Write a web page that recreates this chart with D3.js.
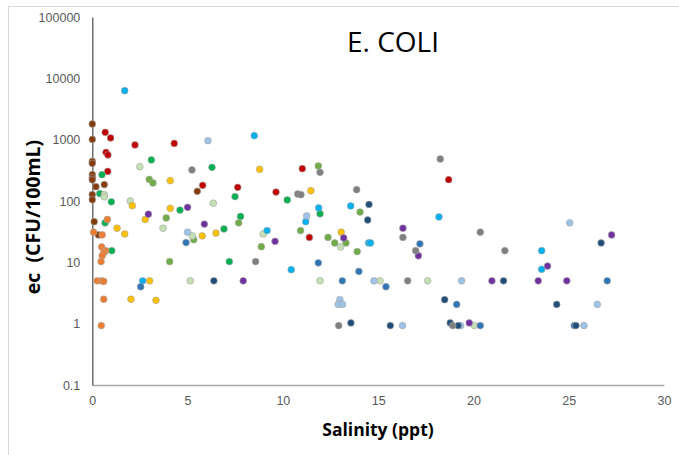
<!DOCTYPE html>
<html>
<head>
<meta charset="utf-8">
<script src="https://cdn.jsdelivr.net/npm/d3@7"></script>
<style>
  body { margin: 0; background: #fff; }
  svg { display: block; font-family: "Open Sans", "Noto Sans", sans-serif; }
</style>
</head>
<body>
<svg id="chart" width="679" height="455"></svg>
<script>
// sampling sites, each one a [salinity (ppt), ec (CFU/100mL)] list
const brown = [[0,1800],[0,1010],[0,443],[0,411],[0,270],[0,240],[0,222],[0.19,171],[0.63,185],[0,127],[0,105],[0.1,46],[0.32,28],[5.51,144]];
const red = [[0.68,1315],[0.96,1066],[2.24,820],[4.3,870],[0.72,621],[0.82,563],[0.81,304],[5.79,180],[7.63,167],[11.02,337],[9.64,140],[18.7,223],[11.39,25.5]];
const green = [[3.1,467],[6.28,354],[0.51,269],[0.39,132],[1.0,97],[7.49,118],[4.6,71],[7.78,56],[0.67,44],[6.91,35],[1.02,15.5],[7.19,10.3],[10.23,104],[11.95,62]];
const lightGreen = [[2.99,225],[3.18,197],[3.88,53],[7.68,44],[5.32,23.4],[4.06,10.3],[8.87,18],[12.37,25.5],[12.72,20.7],[13.31,20.7],[11.86,372],[10.93,33],[13.9,15],[14.05,66]];
const paleGreen = [[2.49,363],[0.63,127],[0.63,117],[1.99,100],[6.35,92],[3.71,36],[5.25,27],[8.97,29],[5.14,5],[11.95,5],[13.03,17.8],[15.1,5],[17.6,5],[20.04,0.93]];
const orange = [[0.79,50],[0.07,31],[0.52,28],[0.49,17.8],[0.7,15.5],[0.61,14.5],[0.52,12.8],[0.46,10.3],[0.26,5],[0.49,5],[0.6,4.9],[0.6,2.5],[0.47,0.93]];
const gold = [[8.78,328],[2.1,84],[4.09,215],[4.09,76],[2.78,50],[1.3,36],[1.7,29],[6.49,30],[5.77,27],[11.47,147],[13.06,31],[3.01,5],[2.03,2.5],[3.34,2.4]];
const skyBlue = [[1.7,6300],[8.5,1162],[9.17,33],[2.64,5],[10.44,7.6],[11.88,77],[11.2,46],[13.56,83],[14.5,20.7],[14.6,20.7],[18.19,55],[23.58,15.5],[23.58,7.7]];
const paleBlue = [[6.07,963],[5.0,31],[11.25,57],[14.78,5],[19.38,5],[12.99,2.46],[12.9,2.06],[13.13,2.06],[16.28,0.93],[19.33,0.93],[25.05,44],[26.5,2.06],[25.8,0.93]];
const midBlue = [[4.92,21],[2.54,4],[11.86,9.8],[13.99,7.1],[13.12,5],[15.41,4],[17.19,20],[19.12,2.06],[20.36,0.93],[27.02,5],[25.29,0.93]];
const darkBlue = [[14.52,88],[14.45,49],[6.38,5],[21.58,5],[18.49,2.46],[24.37,2.06],[13.57,1.03],[15.64,0.93],[18.78,1.03],[19.2,0.93],[26.7,20.7],[25.38,0.93]];
const purple = [[2.94,61],[5.0,79],[5.88,42],[9.59,22],[7.92,5],[13.19,25],[16.3,36],[17.11,12.8],[19.78,1.03],[20.97,5],[23.89,8.7],[23.4,5],[24.9,5],[27.25,28]];
const gray = [[5.23,321],[8.57,10.3],[18.26,484],[11.95,293],[10.78,130],[10.95,127],[13.87,153],[16.3,25.5],[12.93,0.93],[16.97,15.5],[16.55,5],[18.91,0.93],[20.36,31],[21.65,15.5]];

const xTicks = [0, 5, 10, 15, 20, 25, 30];
const yTicks = [0.1, 1, 10, 100, 1000, 10000, 100000];
const yTickLabels = ["0.1", "1", "10", "100", "1000", "10000", "100000"];

const series = [
  { pts: brown, color: "#843c0c" },
  { pts: red, color: "#c00000" },
  { pts: green, color: "#00b050" },
  { pts: lightGreen, color: "#70ad47" },
  { pts: paleGreen, color: "#c5e0b4" },
  { pts: orange, color: "#ed7d31" },
  { pts: gold, color: "#ffc000" },
  { pts: skyBlue, color: "#00b0f0" },
  { pts: paleBlue, color: "#9dc3e6" },
  { pts: midBlue, color: "#2e75b6" },
  { pts: darkBlue, color: "#1f4e79" },
  { pts: purple, color: "#7030a0" },
  { pts: gray, color: "#7f7f7f" }
];

const svg = d3.select("#chart");

// chart frame
svg.append("rect")
  .attr("x", 8.5).attr("y", 6.5)
  .attr("width", 700).attr("height", 500)
  .attr("fill", "none").attr("stroke", "#d9d9d9");

const x = d3.scaleLinear().domain([0, 30]).range([92.3, 664]);
const y = d3.scaleLog().domain([0.1, 100000]).range([385, 17]);

// x axis
const gx = svg.append("g")
  .attr("transform", "translate(0," + y(0.1) + ")")
  .call(d3.axisBottom(x).tickValues(xTicks).tickSize(0).tickPadding(11));
gx.select(".domain").attr("stroke", "#a6a6a6").attr("stroke-width", 1.3);
gx.selectAll("text").attr("fill", "#595959").style("font-size", "12.5px");

// y axis
const gy = svg.append("g")
  .attr("transform", "translate(" + x(0) + ",0)")
  .call(d3.axisLeft(y).tickValues(yTicks).tickSize(0).tickPadding(12)
    .tickFormat((d, i) => yTickLabels[i]));
gy.select(".domain").attr("stroke", "#595959").attr("stroke-width", 1.3);
gy.selectAll("text").attr("fill", "#595959").style("font-size", "12.5px");

// points
svg.append("g")
  .selectAll("g")
  .data(series)
  .enter().append("g")
  .attr("fill", d => d.color)
  .selectAll("circle")
  .data(d => d.pts)
  .enter().append("circle")
  .attr("cx", d => x(d[0]))
  .attr("cy", d => y(d[1]))
  .attr("r", 3.4)
  .attr("stroke", "#a6a6a6")
  .attr("stroke-width", 0.6);

// titles
svg.append("text")
  .attr("x", 347).attr("y", 52)
  .style("font-size", "28px")
  .attr("fill", "#000")
  .text("E. COLI");

svg.append("text")
  .attr("x", 378).attr("y", 436)
  .attr("text-anchor", "middle")
  .style("font-size", "17.5px").style("font-weight", "bold")
  .attr("fill", "#000")
  .text("Salinity (ppt)");

svg.append("text")
  .attr("transform", "translate(40,217) rotate(-90)")
  .attr("text-anchor", "middle")
  .style("font-size", "19.5px").style("font-weight", "bold")
  .style("white-space", "pre")
  .attr("fill", "#000")
  .text("ec  (CFU/100mL)");
</script>
</body>
</html>
